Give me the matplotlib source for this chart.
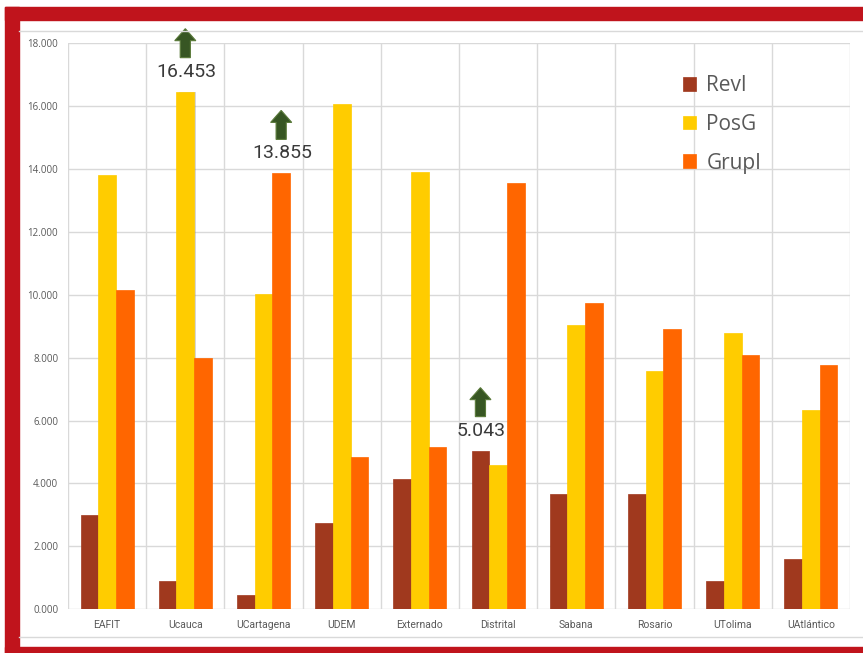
import numpy as np
import matplotlib.pyplot as plt
from matplotlib.patches import Rectangle, FancyArrow

# data
universidades = ['EAFIT', 'Ucauca', 'UCartagena', 'UDEM', 'Externado',
                 'Distrital', 'Sabana', 'Rosario', 'UTolima', 'UAtlántico']
revi = [2990, 900, 450, 2750, 4130, 5043, 3650, 3650, 890, 1600]
posg = [13820, 16453, 10010, 16050, 13900, 4600, 9040, 7580, 8780, 6340]
grupi = [10160, 8000, 13855, 4830, 5150, 13550, 9750, 8920, 8070, 7770]
series_names = ['RevI', 'PosG', 'GrupI']
colors = ['#A0391E', '#FFCC00', '#FF6600']

# highlighted values: (category index, series index)
highlights = [(1, 1), (2, 2), (5, 0)]

narrow = ['Roboto', 'DejaVu Sans']
plt.rcParams['font.family'] = ['Open Sans', 'DejaVu Sans']

fig = plt.figure(figsize=(8.63, 6.53), dpi=100)
fig.patch.set_facecolor('white')

# red frame
red = '#C0141C'
fig.patches.append(Rectangle((5/863, 0), 14/863, 646/653, transform=fig.transFigure,
                             color=red, zorder=0))
fig.patches.append(Rectangle((5/863, (653-20)/653), 858/863, 13/653,
                             transform=fig.transFigure, color=red, zorder=0))
fig.patches.append(Rectangle((5/863, 0), 858/863, 6/653, transform=fig.transFigure,
                             color=red, zorder=0))
# chart area border lines
fig.add_artist(plt.Line2D([19/863, 1], [(653-31)/653]*2, color='#D9D9D9', lw=1))
fig.add_artist(plt.Line2D([19/863, 1], [(653-637)/653]*2, color='#D9D9D9', lw=1))

ax = fig.add_axes([68/863, (653-609.3)/653, 782/863, (609.3-43)/653])
x = np.arange(len(universidades))
w = 0.226
data = [revi, posg, grupi]

# soft shadow behind the tall Ucauca bar
ax.bar(x[1] + 0.03, posg[1], w, color='#888888', alpha=0.35, zorder=2)

for i, (vals, c, name) in enumerate(zip(data, colors, series_names)):
    ax.bar(x + (i - 1) * w, vals, w, color=c, label=name, zorder=3,
           edgecolor=c, linewidth=0.5)

ax.set_xlim(-0.5, len(universidades) - 0.5)
ax.set_ylim(0, 18000)
ax.set_yticks(np.arange(0, 18001, 2000))
ax.set_yticklabels([f'{v/1000:.3f}' for v in range(0, 18001, 2000)],
                   fontsize=7, color='#595959')
ax.set_xticks(x)
ax.set_xticklabels(universidades, fontsize=7.5, color='#595959', family=narrow)
ax.tick_params(length=0, axis='y', pad=7)
ax.tick_params(length=0, axis='x', pad=8)

# grid
ax.set_axisbelow(True)
ax.grid(axis='y', color='#D9D9D9', lw=1)
for b in np.arange(-0.5, len(universidades), 1):
    ax.axvline(b, color='#D9D9D9', lw=1, zorder=1)
for s in ax.spines.values():
    s.set_visible(False)

# highlight arrows and labels
ax_h_px = 609.3 - 43
def px(p):
    return p * 18000 / ax_h_px

for ci, si in highlights:
    val = data[si][ci]
    xc = x[ci] + (si - 1) * w
    ax.annotate(f'{val/1000:.3f}', (xc, val), xytext=(0.5, 14.5), textcoords='offset points',
                ha='center', va='center', fontsize=14, color='#3A3A3A',
                family=narrow, annotation_clip=False)
    base = val + px(34)
    ar = FancyArrow(xc, base, 0, px(29), width=0.13, head_width=0.27,
                    head_length=px(12), length_includes_head=True,
                    facecolor='#375623', edgecolor='#5A7A3A', lw=0.8,
                    clip_on=False, zorder=5)
    ax.add_patch(ar)

leg = ax.legend(loc='upper left', bbox_to_anchor=(0.776, 0.958), frameon=False,
                fontsize=15, handlelength=0.62, handleheight=0.62, handletextpad=0.5,
                labelspacing=0.85, borderaxespad=0)
for t in leg.get_texts():
    t.set_color('#595959')

fig.savefig('out.png', dpi=100)
